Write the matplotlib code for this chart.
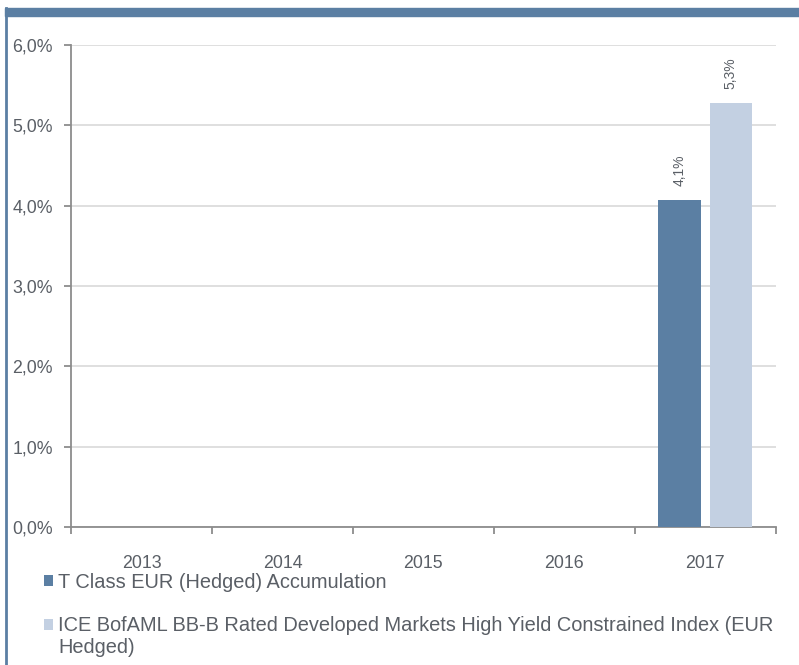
import numpy as np
import matplotlib.pyplot as plt
from matplotlib.patches import Rectangle
from matplotlib.lines import Line2D
from matplotlib.legend_handler import HandlerPatch

# values (annual performance, %)
years = ['2013', '2014', '2015', '2016', '2017']
fund = [np.nan, np.nan, np.nan, np.nan, 4.07]
index = [np.nan, np.nan, np.nan, np.nan, 5.28]
fund_name = 'T Class EUR (Hedged) Accumulation'
index_name = ('ICE BofAML BB-B Rated Developed Markets High Yield Constrained Index (EUR\n'
              'Hedged)')
yticks = [0, 1, 2, 3, 4, 5, 6]

dark = '#5b7fa3'
light = '#c3d0e2'
txt = '#5a5f66'

plt.rcParams['font.family'] = ['Liberation Sans', 'DejaVu Sans']

fig = plt.figure(figsize=(7.99, 6.65), dpi=100)
ax = fig.add_axes([0.0889, 0.2075, 0.882, 0.7248])

x = np.arange(len(years))
w = 0.30
b1 = ax.bar(x - 0.182, fund, w, color=dark, label=fund_name, zorder=3)
b2 = ax.bar(x + 0.182, index, w, color=light, label=index_name, zorder=3)

for bars, vals in ((b1, fund), (b2, index)):
    for rect, v in zip(bars, vals):
        if np.isnan(v):
            continue
        ax.annotate(f'{v:.1f}%'.replace('.', ','),
                    (rect.get_x() + rect.get_width() / 2, v),
                    xytext=(0, 10), textcoords='offset points',
                    rotation=90, ha='center', va='bottom',
                    fontsize=10, color=txt)

ax.set_xlim(-0.5, len(years) - 0.5)
ax.set_ylim(0, 6)
ax.set_yticks(yticks)
ax.set_yticklabels([f'{t},0%' for t in yticks])
ax.set_xticks(x)
ax.set_xticklabels(years)
ax.set_xticks(np.arange(len(years) + 1) - 0.5, minor=True)

ax.grid(axis='y', color='#d9d9d9', linewidth=1.2, zorder=0)
ax.set_axisbelow(True)
for s in ('top', 'right'):
    ax.spines[s].set_visible(False)
for s in ('left', 'bottom'):
    ax.spines[s].set_color('#8c8c8c')
    ax.spines[s].set_linewidth(1.3)

ax.tick_params(axis='y', length=5, width=1.3, color='#8c8c8c', pad=8,
               labelsize=12.8, labelcolor=txt)
ax.tick_params(axis='x', which='major', length=0, pad=20,
               labelsize=12.8, labelcolor=txt)
ax.tick_params(axis='x', which='minor', length=5, width=1.3, color='#8c8c8c')


# legend squares sit on the first line of a wrapped label
def top_square(legend, orig_handle, xdescent, ydescent, width, height, fontsize):
    lift = orig_handle.get_label().count('\n') * 0.6 * fontsize
    return Rectangle((-xdescent, -ydescent + lift), width, height)


handler = HandlerPatch(patch_func=top_square,
                       update_func=lambda h, o: h.update_from(o.patches[0]))
leg = fig.legend(handles=[b1, b2], loc='upper left', bbox_to_anchor=(0.055, 0.139),
                 frameon=False, fontsize=14.4, handlelength=0.45, handleheight=0.45,
                 handletextpad=0.25, labelspacing=1.2, borderpad=0, borderaxespad=0,
                 handler_map={b1: handler, b2: handler})
for t in leg.get_texts():
    t.set_color(txt)

# frame decoration: blue band on top, blue line on the left
fig.patches.append(Rectangle((0.006, 0.976), 0.994, 0.012, transform=fig.transFigure,
                             color=dark, zorder=0))
fig.lines.append(Line2D([0.008, 0.008], [0.0, 0.988], transform=fig.transFigure,
                        color=dark, linewidth=2))

fig.savefig('out.png', dpi=100)
